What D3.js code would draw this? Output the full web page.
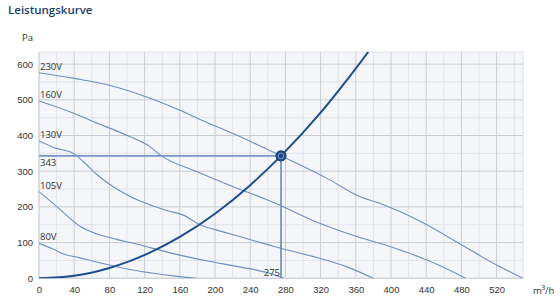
<!DOCTYPE html>
<html><head><meta charset="utf-8">
<script src="https://cdn.jsdelivr.net/npm/d3@7"></script>
<style>
html,body{margin:0;padding:0;background:#fff;}
svg{display:block;font-family:"Open Sans","Noto Sans",Arial,sans-serif;}
</style></head>
<body><svg id="c" width="560" height="300"></svg>
<script>
const xTicks = [0,40,80,120,160,200,240,280,320,360,400,440,480,520];
const yTicks = [0,100,200,300,400,500,600];
const xMinor = [20,60,100,140,180,220,260,300,340,380,420,460,500,540];
const yMinor = [50,150,250,350,450,550];
const seriesNames = ["230V","160V","130V","105V","80V"];
const v230 = [[0,576],[40,560],[80,541],[130,501],[160,471],[185,443],[230,395],[275,343],[331,275],[361,233],[387,210],[410,187],[437,155],[480,94],[520,37],[550,0]];
const v160 = [[0,497],[40,462],[58,443],[103,397],[126,369],[138,345],[179,299],[220,257],[262,217],[275,203],[319,154],[361,117],[398,90],[421,70],[441,51],[485,0]];
const v130 = [[0,385],[20,364],[39,350],[50,328],[66,290],[84,257],[103,230],[126,206],[145,190],[164,177],[183,150],[202,135],[228,117],[262,93],[275,84],[319,56],[350,32],[380,0]];
const v105 = [[0,243],[16,210],[31,177],[47,145],[66,124],[88,109],[111,96],[126,86],[137,79],[160,65],[190,49],[228,32],[262,14],[278,0]];
const v80 = [[0,98],[16,82],[28,68],[45,58],[70,43],[105,24],[130,14],[155,6],[179,0]];
const systemCurve = [[0,0],[40,7],[58,15],[80,29],[103,48],[126,72],[160,116],[200,181],[240,261],[275,343],[320,464],[350,556],[374,634],[380,655]];
const opPoint = [275,343];

const svg = d3.select("#c");
const x = d3.scaleLinear().domain([0,550]).range([39,523]);
const y = d3.scaleLinear().domain([0,634]).range([278.3,52]);

svg.append("text").attr("x",8).attr("y",14).attr("fill","#1c3d6b")
  .attr("font-size",11.5).attr("font-weight",600).text("Leistungskurve");

svg.append("defs").append("clipPath").attr("id","pc").append("rect")
  .attr("x",x(0)).attr("y",y(634)).attr("width",x(550)-x(0)).attr("height",y(0)-y(634));

svg.append("rect").attr("x",x(0)).attr("y",y(634)).attr("width",x(550)-x(0)).attr("height",y(0)-y(634))
  .attr("fill","#f4f6f9").attr("stroke","#dde1e6");

const g = svg.append("g");
g.selectAll(".xm").data(xMinor).join("line").attr("x1",d=>x(d)).attr("x2",d=>x(d)).attr("y1",y(0)).attr("y2",y(634)).attr("stroke","#e0e3e8").attr("stroke-width",1);
g.selectAll(".ym").data(yMinor).join("line").attr("y1",d=>y(d)).attr("y2",d=>y(d)).attr("x1",x(0)).attr("x2",x(550)).attr("stroke","#e0e3e8").attr("stroke-width",1);
g.selectAll(".xM").data(xTicks).join("line").attr("x1",d=>x(d)).attr("x2",d=>x(d)).attr("y1",y(0)).attr("y2",y(634)).attr("stroke","#c9cdd3").attr("stroke-width",1);
g.selectAll(".yM").data(yTicks).join("line").attr("y1",d=>y(d)).attr("y2",d=>y(d)).attr("x1",x(0)).attr("x2",x(550)).attr("stroke","#c9cdd3").attr("stroke-width",1);

const xAxis = svg.append("g").attr("transform",`translate(0,${y(0)})`)
  .call(d3.axisBottom(x).tickValues(xTicks).tickSize(0).tickPadding(8));
xAxis.select(".domain").remove();
xAxis.selectAll("text").attr("font-size",9.5).attr("fill","#333").attr("font-family","inherit");
const yAxis = svg.append("g").attr("transform",`translate(${x(0)},0)`)
  .call(d3.axisLeft(y).tickValues(yTicks).tickSize(0).tickPadding(6));
yAxis.select(".domain").remove();
yAxis.selectAll("text").attr("font-size",9.5).attr("fill","#333").attr("font-family","inherit");

svg.append("text").attr("x",33).attr("y",41).attr("text-anchor","end").attr("font-size",9.5).attr("fill","#333").text("Pa");
svg.append("text").attr("x",533).attr("y",294).attr("font-size",9.5).attr("fill","#333").text("m³/h");

const line = d3.line().x(d=>x(d[0])).y(d=>y(d[1])).curve(d3.curveMonotoneX);
const plot = svg.append("g").attr("clip-path","url(#pc)");
const all = [v230,v160,v130,v105,v80];
plot.selectAll(".fan").data(all).join("path").attr("d",line).attr("fill","none").attr("stroke","#6d8fc0").attr("stroke-width",1.1);

// reference lines
plot.append("line").attr("x1",x(0)).attr("x2",x(opPoint[0])).attr("y1",y(opPoint[1])).attr("y2",y(opPoint[1])).attr("stroke","#7595c3").attr("stroke-width",1.8);
plot.append("line").attr("x1",x(opPoint[0])).attr("x2",x(opPoint[0])).attr("y1",y(opPoint[1])).attr("y2",y(0)).attr("stroke","#7595c3").attr("stroke-width",1.8);

plot.append("path").datum(systemCurve).attr("d",line).attr("fill","none").attr("stroke","#1d4d8c").attr("stroke-width",2);

svg.append("circle").attr("cx",x(opPoint[0])).attr("cy",y(opPoint[1])).attr("r",5).attr("fill","#22548f").attr("stroke","#1a3f73").attr("stroke-width",1.2);
svg.append("circle").attr("cx",x(opPoint[0])).attr("cy",y(opPoint[1])).attr("r",2.8).attr("fill","#1d4582").attr("stroke","#7fa0c8").attr("stroke-width",0.9);

// labels
svg.selectAll(".lbl").data(all).join("text").attr("x",x(0)+1).attr("y",d=>y(d[0][1])-3)
  .attr("font-size",9.5).attr("fill","#333").text((d,i)=>seriesNames[i]);
svg.append("text").attr("x",x(0)+1).attr("y",y(opPoint[1])+10).attr("font-size",9.5).attr("fill","#333").text(String(opPoint[1]));
svg.append("text").attr("x",x(opPoint[0])-1).attr("y",y(0)-2).attr("text-anchor","end").attr("font-size",9.5).attr("fill","#333").text(String(opPoint[0]));
</script></body></html>
